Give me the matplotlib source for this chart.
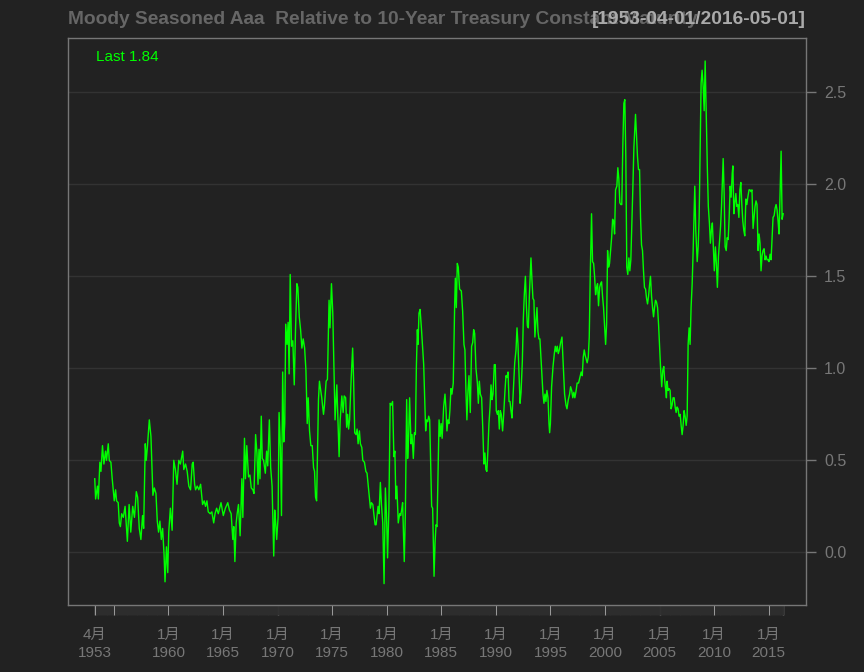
import numpy as np
import matplotlib
matplotlib.use("Agg")
import matplotlib.pyplot as plt

plt.rcParams['font.family'] = ['Liberation Sans', 'Noto Sans CJK SC', 'DejaVu Sans']

title = "Moody Seasoned Aaa  Relative to 10-Year Treasury Constant Maturity"
date_range = "[1953-04-01/2016-05-01]"
last_label = "Last 1.84"

# readings: decimal year / spread (%)
yr_a = [1953.25, 1953.33, 1953.50, 1953.58, 1953.72, 1953.82, 1953.96, 1954.09, 1954.24, 1954.33,
        1954.49, 1954.58, 1954.73, 1954.85, 1955.04, 1955.16, 1955.25, 1955.40, 1955.50, 1955.60,
        1955.72, 1955.87, 1956.03, 1956.24, 1956.40, 1956.55, 1956.73, 1956.89, 1957.06, 1957.18,
        1957.33, 1957.48, 1957.63, 1957.73, 1957.88, 1957.97, 1958.07, 1958.25, 1958.40, 1958.58,
        1958.71, 1958.86, 1958.98, 1959.10, 1959.22, 1959.35, 1959.47, 1959.60, 1959.69, 1959.82,
        1959.94, 1960.03, 1960.18, 1960.34, 1960.49, 1960.64, 1960.79, 1960.95, 1961.10, 1961.31,
        1961.41, 1961.57, 1961.72, 1961.87, 1962.03, 1962.18, 1962.27, 1962.40, 1962.49, 1962.64,
        1962.79, 1962.95]
val_a = [0.40, 0.29, 0.36, 0.29, 0.49, 0.44, 0.58, 0.48, 0.55, 0.50,
         0.59, 0.50, 0.49, 0.40, 0.28, 0.34, 0.28, 0.27, 0.16, 0.14,
         0.21, 0.19, 0.25, 0.06, 0.26, 0.11, 0.25, 0.19, 0.33, 0.30,
         0.13, 0.07, 0.20, 0.13, 0.59, 0.50, 0.57, 0.72, 0.63, 0.31,
         0.35, 0.32, 0.17, 0.11, 0.17, 0.07, 0.13, -0.01, -0.16, 0.03,
         -0.11, 0.11, 0.24, 0.12, 0.50, 0.45, 0.37, 0.50, 0.48, 0.55,
         0.45, 0.48, 0.44, 0.36, 0.34, 0.48, 0.49, 0.37, 0.34, 0.36,
         0.34, 0.37]

yr_b = [1963.13, 1963.28, 1963.40, 1963.53, 1963.65, 1963.83, 1963.98, 1964.15, 1964.27, 1964.42,
        1964.57, 1964.82, 1965.03, 1965.22, 1965.44, 1965.59, 1965.75, 1965.90, 1965.99, 1966.09,
        1966.21, 1966.30, 1966.42, 1966.57, 1966.73, 1966.82, 1966.97, 1967.06, 1967.18, 1967.34,
        1967.47, 1967.59, 1967.74, 1967.84, 1967.99, 1968.11, 1968.21, 1968.30, 1968.39, 1968.51,
        1968.60, 1968.72, 1968.88, 1969.00, 1969.10, 1969.25, 1969.37, 1969.50, 1969.65, 1969.74,
        1969.83, 1969.92, 1970.05, 1970.14, 1970.26, 1970.36, 1970.47, 1970.57, 1970.66, 1970.75,
        1970.87, 1970.97, 1971.06, 1971.16, 1971.28, 1971.40, 1971.53, 1971.65, 1971.77, 1971.86,
        1971.99, 1972.11, 1972.23, 1972.35, 1972.48, 1972.60, 1972.72, 1972.81, 1972.93, 1973.05,
        1973.18, 1973.30, 1973.39, 1973.48, 1973.58]
val_b = [0.26, 0.28, 0.25, 0.28, 0.22, 0.21, 0.22, 0.16, 0.21, 0.24,
         0.21, 0.27, 0.20, 0.24, 0.27, 0.23, 0.21, 0.07, 0.14, -0.05,
         0.16, 0.21, 0.26, 0.09, 0.40, 0.19, 0.62, 0.40, 0.58, 0.41,
         0.42, 0.35, 0.34, 0.32, 0.64, 0.54, 0.37, 0.56, 0.40, 0.74,
         0.51, 0.50, 0.43, 0.55, 0.47, 0.72, 0.46, 0.36, -0.02, 0.23,
         0.16, 0.07, 0.19, 0.76, 0.57, 0.20, 0.98, 0.60, 0.70, 1.24,
         1.13, 1.25, 0.97, 1.51, 1.12, 1.15, 0.91, 1.22, 1.46, 1.44,
         1.28, 1.21, 1.11, 1.16, 1.11, 0.99, 0.70, 0.84, 0.66, 0.58,
         0.58, 0.46, 0.44, 0.30, 0.28]

yr_c = [1973.75, 1973.84, 1973.96, 1974.05, 1974.21, 1974.30, 1974.45, 1974.57, 1974.72, 1974.81,
        1974.94, 1975.06, 1975.18, 1975.27, 1975.43, 1975.52, 1975.64, 1975.74, 1975.89, 1976.01,
        1976.11, 1976.24, 1976.33, 1976.42, 1976.51, 1976.60, 1976.75, 1976.88, 1976.97, 1977.07,
        1977.19, 1977.29, 1977.38, 1977.50, 1977.59, 1977.72, 1977.81, 1977.96, 1978.09, 1978.20,
        1978.30, 1978.42, 1978.51, 1978.60, 1978.73, 1978.82, 1978.94, 1979.03, 1979.12, 1979.21,
        1979.30, 1979.42, 1979.52, 1979.64, 1979.76, 1979.88, 1979.98, 1980.08, 1980.20, 1980.32,
        1980.42, 1980.54, 1980.66, 1980.75, 1980.84, 1980.93, 1981.06, 1981.19, 1981.28, 1981.37,
        1981.46, 1981.55, 1981.61, 1981.71, 1981.83, 1981.92, 1982.01, 1982.10, 1982.23, 1982.32,
        1982.44, 1982.54, 1982.63, 1982.72, 1982.81, 1982.87, 1982.96, 1983.06, 1983.18, 1983.30,
        1983.39, 1983.48, 1983.57, 1983.66, 1983.76, 1983.85, 1983.94, 1984.03, 1984.12, 1984.21,
        1984.34, 1984.43, 1984.52, 1984.61]
val_c = [0.83, 0.93, 0.88, 0.84, 0.75, 0.80, 0.93, 0.94, 1.37, 1.22,
         1.46, 1.30, 0.96, 0.72, 0.91, 0.75, 0.52, 0.72, 0.85, 0.76,
         0.85, 0.84, 0.68, 0.75, 0.67, 0.72, 0.95, 1.11, 0.93, 0.65,
         0.64, 0.67, 0.59, 0.66, 0.59, 0.57, 0.50, 0.49, 0.44, 0.43,
         0.37, 0.30, 0.24, 0.27, 0.26, 0.21, 0.15, 0.15, 0.20, 0.25,
         0.21, 0.38, 0.26, 0.16, -0.17, 0.35, 0.21, -0.03, 0.23, 0.81,
         0.80, 0.82, 0.52, 0.55, 0.29, 0.36, 0.16, 0.21, 0.20, 0.23,
         0.27, 0.07, -0.05, 0.21, 0.83, 0.51, 0.63, 0.84, 0.59, 0.64,
         0.51, 0.65, 0.64, 1.01, 1.21, 1.13, 1.30, 1.32, 1.22, 1.10,
         1.02, 0.83, 0.66, 0.72, 0.71, 0.74, 0.72, 0.48, 0.25, 0.24,
         -0.13, 0.05, 0.15, 0.14]

yr_d = [1984.80, 1984.90, 1984.99, 1985.08, 1985.22, 1985.34, 1985.43, 1985.52, 1985.61, 1985.70,
        1985.79, 1985.89, 1985.98, 1986.10, 1986.23, 1986.29, 1986.38, 1986.47, 1986.56, 1986.68,
        1986.84, 1986.96, 1987.08, 1987.17, 1987.26, 1987.35, 1987.45, 1987.54, 1987.66, 1987.78,
        1987.88, 1987.97, 1988.06, 1988.18, 1988.31, 1988.40, 1988.49, 1988.58, 1988.70, 1988.80,
        1988.91, 1989.00, 1989.09, 1989.18, 1989.27, 1989.37, 1989.47, 1989.56, 1989.65, 1989.74,
        1989.86, 1989.95, 1990.04, 1990.14, 1990.23, 1990.32, 1990.41, 1990.50, 1990.62, 1990.72,
        1990.84, 1990.93, 1991.02, 1991.12, 1991.21, 1991.30, 1991.39, 1991.48, 1991.60, 1991.73,
        1991.85, 1991.94, 1992.03, 1992.13, 1992.22, 1992.31, 1992.43, 1992.52, 1992.61, 1992.71,
        1992.80, 1992.89, 1992.98, 1993.07, 1993.22, 1993.31, 1993.40, 1993.49, 1993.58, 1993.68,
        1993.77, 1993.86, 1993.95, 1994.04, 1994.13, 1994.22, 1994.32, 1994.41, 1994.50, 1994.59,
        1994.68, 1994.78]
val_d = [0.72, 0.63, 0.70, 0.62, 0.79, 0.86, 0.78, 0.66, 0.72, 0.70,
         0.77, 0.89, 0.86, 0.92, 1.35, 1.49, 1.33, 1.57, 1.55, 1.43,
         1.42, 1.31, 1.13, 1.10, 0.88, 0.72, 0.88, 0.96, 0.76, 1.12,
         1.14, 1.21, 1.19, 1.00, 0.92, 0.81, 0.93, 0.86, 0.84, 0.68,
         0.48, 0.54, 0.45, 0.44, 0.55, 0.70, 0.79, 0.91, 0.83, 0.86,
         1.02, 1.02, 0.77, 0.75, 0.77, 0.67, 0.77, 0.75, 0.66, 0.75,
         0.88, 0.96, 0.95, 0.98, 0.82, 0.82, 0.77, 0.73, 0.88, 1.03,
         1.10, 1.22, 1.13, 0.97, 0.81, 0.87, 1.04, 1.27, 1.40, 1.50,
         1.34, 1.23, 1.22, 1.39, 1.60, 1.48, 1.38, 1.37, 1.17, 1.26,
         1.33, 1.20, 1.16, 1.16, 1.06, 0.97, 0.86, 0.81, 0.86, 0.82,
         0.88, 0.84]

yr_e = [1994.87, 1994.93, 1995.00, 1995.11, 1995.24, 1995.36, 1995.45, 1995.54, 1995.63, 1995.72,
        1995.82, 1995.94, 1996.06, 1996.18, 1996.30, 1996.43, 1996.52, 1996.64, 1996.76, 1996.85,
        1996.95, 1997.05, 1997.15, 1997.24, 1997.36, 1997.45, 1997.58, 1997.70, 1997.82, 1997.92,
        1998.01, 1998.10, 1998.19, 1998.28, 1998.37, 1998.47, 1998.56, 1998.65, 1998.77, 1998.86,
        1998.96, 1999.05, 1999.14, 1999.23, 1999.32, 1999.41, 1999.51, 1999.60, 1999.69, 1999.78,
        1999.87, 1999.96, 2000.06, 2000.15, 2000.24, 2000.33, 2000.42, 2000.52, 2000.61, 2000.70,
        2000.79, 2000.88, 2000.97, 2001.09, 2001.18, 2001.27, 2001.36, 2001.45, 2001.54, 2001.64,
        2001.73, 2001.82, 2001.91, 2002.00, 2002.09, 2002.19, 2002.28, 2002.37, 2002.46, 2002.55,
        2002.65, 2002.74, 2002.80, 2002.89, 2002.98, 2003.07, 2003.17, 2003.26, 2003.35, 2003.44,
        2003.53, 2003.62, 2003.72, 2003.81, 2003.90, 2003.99, 2004.08, 2004.17, 2004.27, 2004.36,
        2004.45, 2004.54, 2004.63, 2004.72, 2004.82, 2004.91, 2005.00, 2005.09, 2005.20, 2005.30,
        2005.39]
val_e = [0.70, 0.65, 0.70, 0.90, 1.01, 1.08, 1.12, 1.09, 1.12, 1.08,
         1.10, 1.14, 1.17, 1.01, 0.86, 0.80, 0.78, 0.83, 0.86, 0.90,
         0.88, 0.84, 0.87, 0.84, 0.88, 0.92, 0.92, 0.95, 0.98, 0.96,
         1.06, 1.10, 1.07, 1.05, 1.03, 1.06, 1.17, 1.50, 1.84, 1.58,
         1.57, 1.50, 1.40, 1.44, 1.46, 1.34, 1.44, 1.46, 1.47, 1.39,
         1.33, 1.24, 1.13, 1.24, 1.64, 1.55, 1.57, 1.64, 1.71, 1.81,
         1.80, 1.73, 1.97, 1.99, 2.09, 2.03, 1.90, 1.89, 1.89, 2.22,
         2.44, 2.46, 2.15, 1.55, 1.51, 1.60, 1.53, 1.59, 1.77, 1.97,
         2.20, 2.31, 2.38, 2.26, 2.15, 2.08, 2.08, 1.82, 1.67, 1.64,
         1.53, 1.44, 1.43, 1.38, 1.35, 1.39, 1.45, 1.50, 1.39, 1.33,
         1.28, 1.33, 1.37, 1.36, 1.33, 1.24, 1.12, 1.01, 0.90, 0.99,
         1.01]

yr_f = [2005.48, 2005.57, 2005.63, 2005.69, 2005.78, 2005.88, 2005.97, 2006.06, 2006.15, 2006.24,
        2006.34, 2006.43, 2006.52, 2006.61, 2006.70, 2006.79, 2006.89, 2006.98, 2007.07, 2007.16,
        2007.25, 2007.34, 2007.44, 2007.53, 2007.62, 2007.71, 2007.80, 2007.89, 2007.99, 2008.08,
        2008.17, 2008.23, 2008.32, 2008.45, 2008.54, 2008.63, 2008.72, 2008.81, 2008.90, 2009.00,
        2009.09, 2009.18, 2009.28, 2009.38, 2009.47, 2009.57, 2009.66, 2009.75, 2009.84, 2009.93,
        2010.02, 2010.12, 2010.21, 2010.30, 2010.40, 2010.49, 2010.59, 2010.68, 2010.77, 2010.83,
        2010.92, 2011.01, 2011.11, 2011.20, 2011.29, 2011.38, 2011.47, 2011.56, 2011.66, 2011.72,
        2011.81, 2011.90, 2011.99, 2012.08, 2012.17, 2012.27, 2012.36, 2012.45, 2012.54, 2012.63,
        2012.72, 2012.81, 2012.91, 2013.00, 2013.09, 2013.20, 2013.29, 2013.38, 2013.47, 2013.57,
        2013.66, 2013.75, 2013.84, 2013.93, 2014.03, 2014.12, 2014.21, 2014.30, 2014.39, 2014.48,
        2014.58, 2014.67, 2014.76, 2014.85, 2014.94, 2015.03, 2015.13, 2015.22, 2015.31, 2015.40,
        2015.50, 2015.59, 2015.68, 2015.77, 2015.86, 2015.95, 2016.05, 2016.14, 2016.23, 2016.33]
val_f = [0.93, 0.88, 0.84, 0.93, 0.88, 0.89, 0.88, 0.78, 0.80, 0.84,
         0.84, 0.79, 0.76, 0.79, 0.78, 0.74, 0.75, 0.69, 0.64, 0.69,
         0.77, 0.74, 0.69, 0.74, 1.13, 1.22, 1.13, 1.33, 1.46, 1.64,
         1.86, 1.99, 1.75, 1.58, 1.66, 1.82, 2.18, 2.55, 2.62, 2.53,
         2.40, 2.67, 2.37, 2.09, 1.88, 1.79, 1.68, 1.75, 1.79, 1.66,
         1.53, 1.66, 1.57, 1.44, 1.61, 1.69, 1.77, 1.88, 2.04, 2.14,
         1.95, 1.66, 1.64, 1.71, 1.70, 1.82, 1.99, 1.93, 2.06, 2.10,
         1.84, 1.90, 1.95, 1.88, 1.89, 1.82, 1.97, 2.01, 1.89, 1.80,
         1.75, 1.72, 1.92, 1.89, 1.93, 1.97, 1.97, 1.96, 1.97, 1.76,
         1.82, 1.88, 1.91, 1.89, 1.64, 1.73, 1.68, 1.53, 1.61, 1.64,
         1.65, 1.59, 1.61, 1.59, 1.59, 1.58, 1.62, 1.59, 1.71, 1.82,
         1.83, 1.87, 1.89, 1.86, 1.80, 1.73, 1.97, 2.18, 1.81, 1.84]

tick_years = [1953.25, 1955.0, 1960, 1965, 1970, 1975, 1980, 1985, 1990, 1995,
              2000, 2005, 2010, 2015, 2016.33]
tick_labels = ["4月\n1953", "", "1月\n1960", "1月\n1965", "1月\n1970", "1月\n1975",
               "1月\n1980", "1月\n1985", "1月\n1990", "1月\n1995", "1月\n2000",
               "1月\n2005", "1月\n2010", "1月\n2015", ""]
y_ticks = [0.0, 0.5, 1.0, 1.5, 2.0, 2.5]

years = np.concatenate([yr_a, yr_b, yr_c, yr_d, yr_e, yr_f])
vals = np.concatenate([val_a, val_b, val_c, val_d, val_e, val_f])

bg = '#222222'
fig = plt.figure(figsize=(8.64, 6.72), dpi=100, facecolor=bg)
ax = fig.add_axes([68/864, 1 - 605/672, (806-68)/864, (605-38)/672])
ax.set_facecolor(bg)

for yv in y_ticks:
    ax.axhline(yv, color='#333333', lw=1, zorder=1)

ax.plot(years, vals, color='#00ff00', lw=1.0, zorder=3)

ax.set_xlim(1950.80, 2018.42)
ax.set_ylim(-0.286, 2.795)

for s in ax.spines.values():
    s.set_color('#777777')
    s.set_linewidth(1)

# y axis on the right
ax.yaxis.tick_right()
ax.set_yticks(y_ticks)
ax.set_yticklabels(["%.1f" % v for v in y_ticks])
ax.tick_params(axis='y', colors='#777777', labelcolor='#777777', length=7, width=1,
               labelsize=11.5, pad=6)

# x axis: major ticks plus a dense monthly band
ax.set_xticks(tick_years)
ax.set_xticklabels(tick_labels, linespacing=1.35)
months = np.arange(1953.25, 2016.34, 1/12)
ax.set_xticks(months, minor=True)
ax.tick_params(axis='x', which='minor', colors='#2e2e2e', length=7.5, width=0.7)
ax.tick_params(axis='x', which='major', colors='#999999', labelcolor='#777777', length=7.5,
               width=1, labelsize=11, pad=9)

fig.text(68/864, 1 - 20/672, title, color='#666666', fontsize=13.8, fontweight='bold',
         ha='left', va='center')
fig.text(806/864, 1 - 20/672, date_range, color='#aaaaaa', fontsize=13.8, fontweight='bold',
         ha='right', va='center')
ax.text(96/864, 1 - 57/672, last_label, transform=fig.transFigure, color='#00ff00',
        fontsize=11, ha='left', va='center')

fig.savefig("out.png", dpi=100, facecolor=bg)
